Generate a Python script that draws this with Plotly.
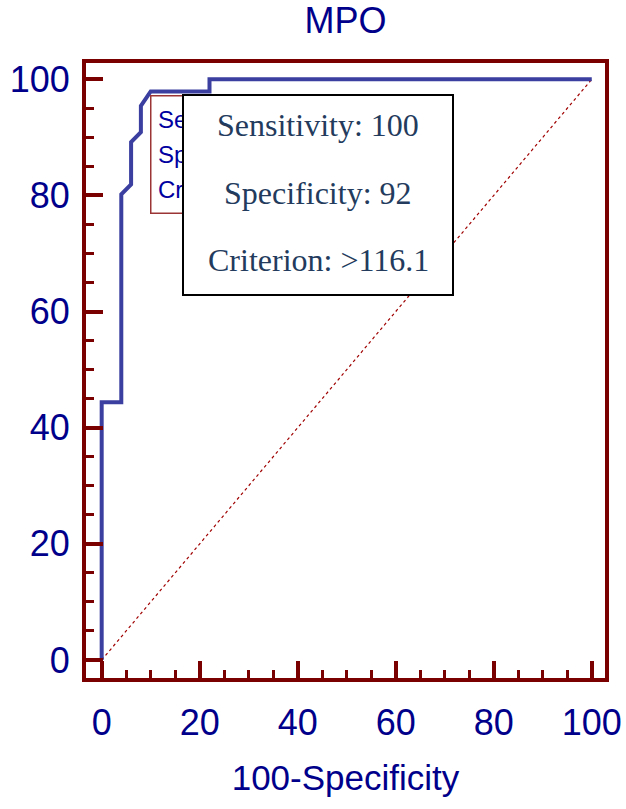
import plotly.graph_objects as go

# ROC curve data (100-Specificity vs Sensitivity)
fpr = [0, 0, 4, 4, 6, 6, 8, 8, 10, 22, 22, 100]
tpr = [0, 44.4, 44.4, 80.2, 81.9, 89.2, 90.9, 95.4, 97.9, 97.9, 100, 100]
diag_x = [0, 100]
diag_y = [0, 100]

tick_vals = [0, 20, 40, 60, 80, 100]
tick_text = ["0", "20", "40", "60", "80", "100"]

box_lines = ["Sensitivity: 100", "Specificity: 92", "Criterion: >116.1"]
small_box_lines = ["Se", "Sp", "Cr"]  # visible part of the covered result box

AX = "#7a0000"
NAVY = "#00008b"

fig = go.Figure()
fig.add_trace(go.Scatter(x=diag_x, y=diag_y, mode="lines",
                         line=dict(color="#a00000", width=1.2, dash="dot"),
                         showlegend=False, hoverinfo="skip"))
fig.add_trace(go.Scatter(x=fpr, y=tpr, mode="lines",
                         line=dict(color="#3b3fa0", width=4),
                         showlegend=False))

axis_common = dict(
    showgrid=False, zeroline=False, automargin=False,
    showline=True, linecolor=AX, linewidth=4, mirror=True,
    ticks="inside", ticklen=17, tickwidth=4, tickcolor=AX,
    tickfont=dict(family="Liberation Sans, Arial", size=36, color=NAVY),
    tickvals=tick_vals, ticktext=tick_text,
    minor=dict(ticks="inside", ticklen=8, tickwidth=3, tickcolor=AX, dtick=5, showgrid=False),
)

fig.update_xaxes(range=[-3.2, 102.7], ticklabelstandoff=10,
                 title=dict(text="100-Specificity", standoff=24,
                            font=dict(family="Liberation Sans, Arial", size=35, color=NAVY)),
                 **axis_common)
fig.update_yaxes(range=[-3.1, 102.8], ticklabelstandoff=5, **axis_common)

ann = []
# small (background) result box
ann.append(dict(x=9.9, y=97.3, xref="x", yref="y", xanchor="left", yanchor="top",
                text=" ", showarrow=False, width=100, height=116,
                bgcolor="white", bordercolor="#9b3434", borderwidth=1.5, borderpad=0))
small_y = [93.0, 87.1, 81.1]
for t, yy in zip(small_box_lines, small_y):
    ann.append(dict(x=11.0, y=yy, xref="x", yref="y", xanchor="left", yanchor="middle",
                    text=t, showarrow=False,
                    font=dict(family="Liberation Sans, Arial", size=24, color="#0000a0")))
# large result box
ann.append(dict(x=16.4, y=97.5, xref="x", yref="y", xanchor="left", yanchor="top",
                text=" ", showarrow=False, width=268, height=198,
                bgcolor="white", bordercolor="black", borderwidth=2, borderpad=0))
big_y = [92.1, 80.4, 68.9]
for t, yy in zip(box_lines, big_y):
    ann.append(dict(x=44.2, y=yy, xref="x", yref="y", xanchor="center", yanchor="middle",
                    text=t, showarrow=False,
                    font=dict(family="Liberation Serif, Times New Roman", size=32, color="#233b5d")))

fig.update_layout(
    width=626, height=809,
    margin=dict(l=86, r=21, t=63, b=131),
    paper_bgcolor="white", plot_bgcolor="white",
    title=dict(text="MPO", x=0.5, xref="paper", y=1 - 20 / 809, yref="container",
               xanchor="center", yanchor="middle",
               font=dict(family="Liberation Sans, Arial", size=36, color=NAVY)),
    annotations=ann,
)

fig.write_html("out.html")
